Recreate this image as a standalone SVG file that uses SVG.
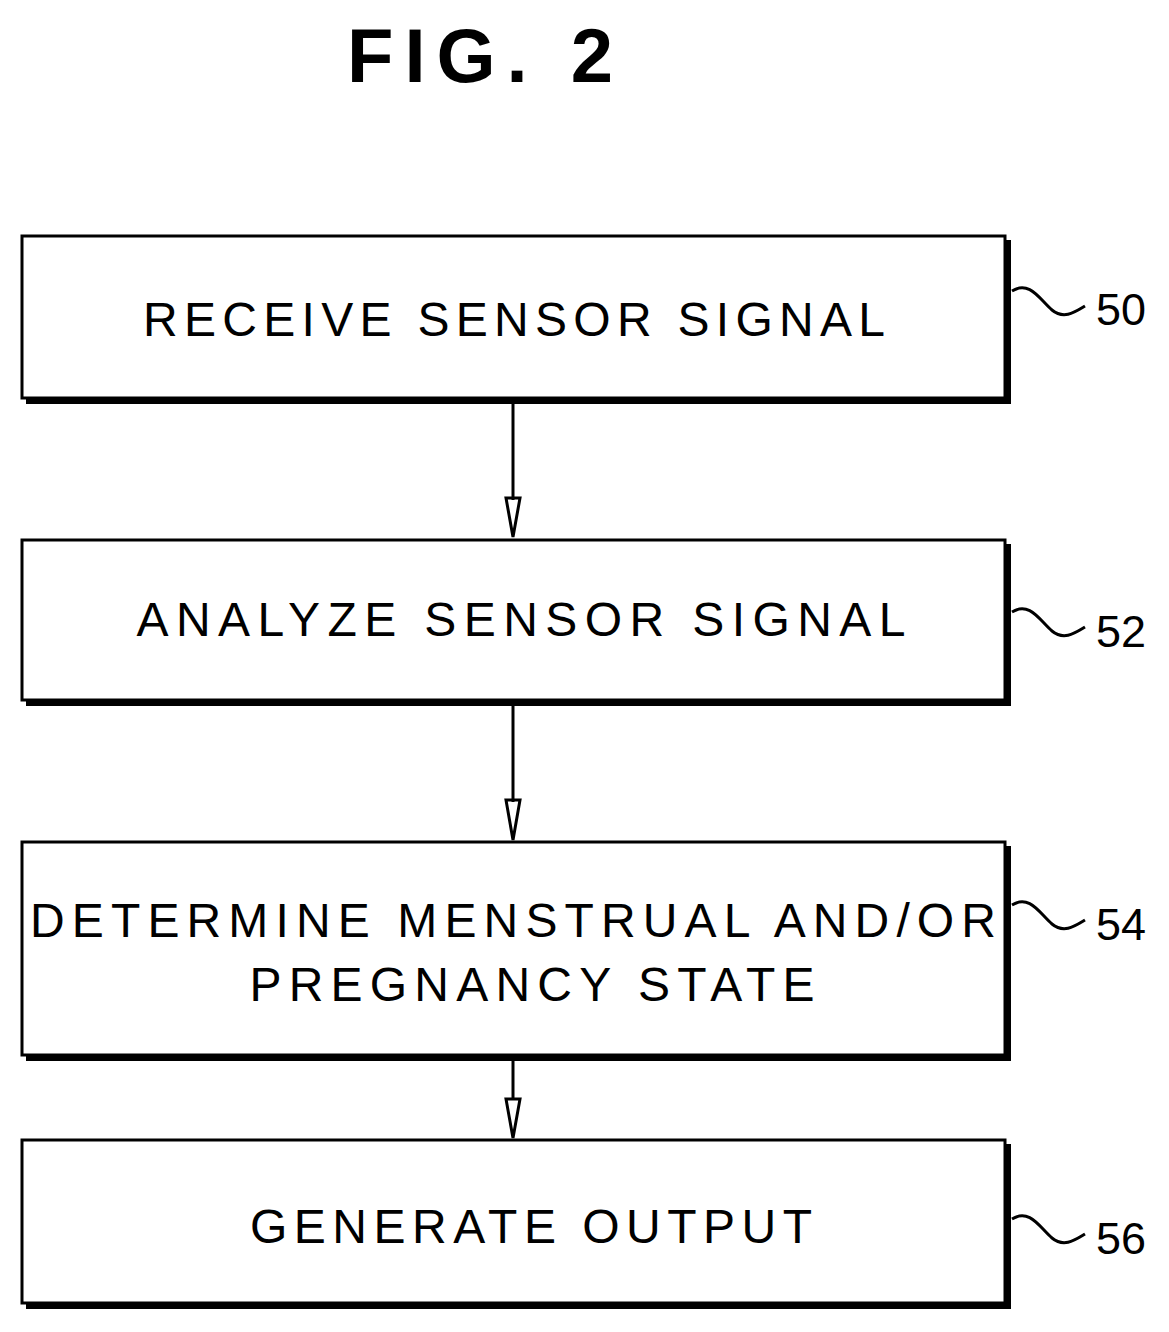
<svg xmlns="http://www.w3.org/2000/svg" width="1169" height="1332" viewBox="0 0 1169 1332">
<style>
.box{fill:#fff;stroke:#000;stroke-width:3}
.sh{fill:none;stroke:#000;stroke-width:6}
.t{font-family:"Liberation Sans",Arial,sans-serif;font-size:48px;fill:#000}
.n{font-family:"Liberation Sans",Arial,sans-serif;font-size:44px;fill:#000}
.w{fill:none;stroke:#000;stroke-width:3}
.c{fill:none;stroke:#000;stroke-width:3}
</style>
<text x="480" y="82" text-anchor="middle" style="font-family:'Liberation Sans',Arial,sans-serif;font-size:76px;font-weight:bold" textLength="266" lengthAdjust="spacing">FIG. 2</text>
<g id="n50"><path class="sh" d="M1008,240 V401 H26"/><rect class="box" x="22" y="236" width="983" height="162"/>
<text class="t" x="514" y="336" text-anchor="middle" textLength="742" lengthAdjust="spacing">RECEIVE SENSOR SIGNAL</text>
<path class="w" d="M1012,291 C1030,280 1040,300 1052,310 C1064,320 1075,312 1085,306"/><text class="n" x="1096" y="325" textLength="50" lengthAdjust="spacingAndGlyphs">50</text></g>
<g id="n52"><path class="sh" d="M1008,544 V703 H26"/><rect class="box" x="22" y="540" width="983" height="160"/>
<text class="t" x="521" y="636" text-anchor="middle" textLength="769" lengthAdjust="spacing">ANALYZE SENSOR SIGNAL</text>
<path class="w" d="M1012,612 C1030,601 1040,621 1052,631 C1064,641 1075,633 1085,627"/><text class="n" x="1096" y="647" textLength="50" lengthAdjust="spacingAndGlyphs">52</text></g>
<g id="n54"><path class="sh" d="M1008,846 V1058 H26"/><rect class="box" x="22" y="842" width="983" height="213"/>
<text class="t" x="513" y="937" text-anchor="middle" textLength="966" lengthAdjust="spacing">DETERMINE MENSTRUAL AND/OR</text>
<text class="t" x="532" y="1001" text-anchor="middle" textLength="565" lengthAdjust="spacing">PREGNANCY STATE</text>
<path class="w" d="M1012,905 C1030,894 1040,914 1052,924 C1064,934 1075,926 1085,920"/><text class="n" x="1096" y="940" textLength="50" lengthAdjust="spacingAndGlyphs">54</text></g>
<g id="n56"><path class="sh" d="M1008,1144 V1306 H26"/><rect class="box" x="22" y="1140" width="983" height="163"/>
<text class="t" x="531" y="1243" text-anchor="middle" textLength="562" lengthAdjust="spacing">GENERATE OUTPUT</text>
<path class="w" d="M1012,1219 C1030,1208 1040,1228 1052,1238 C1064,1248 1075,1240 1085,1234"/><text class="n" x="1096" y="1254" textLength="50" lengthAdjust="spacingAndGlyphs">56</text></g>
<g id="connectors">
<line class="c" x1="513" y1="401" x2="513" y2="500"/><path class="c" d="M506,498 L520,498 L513,537 Z"/>
<line class="c" x1="513" y1="703" x2="513" y2="802"/><path class="c" d="M506,800 L520,800 L513,840 Z"/>
<line class="c" x1="513" y1="1058" x2="513" y2="1100"/><path class="c" d="M506,1099 L520,1099 L513,1138 Z"/>
</g>
</svg>
